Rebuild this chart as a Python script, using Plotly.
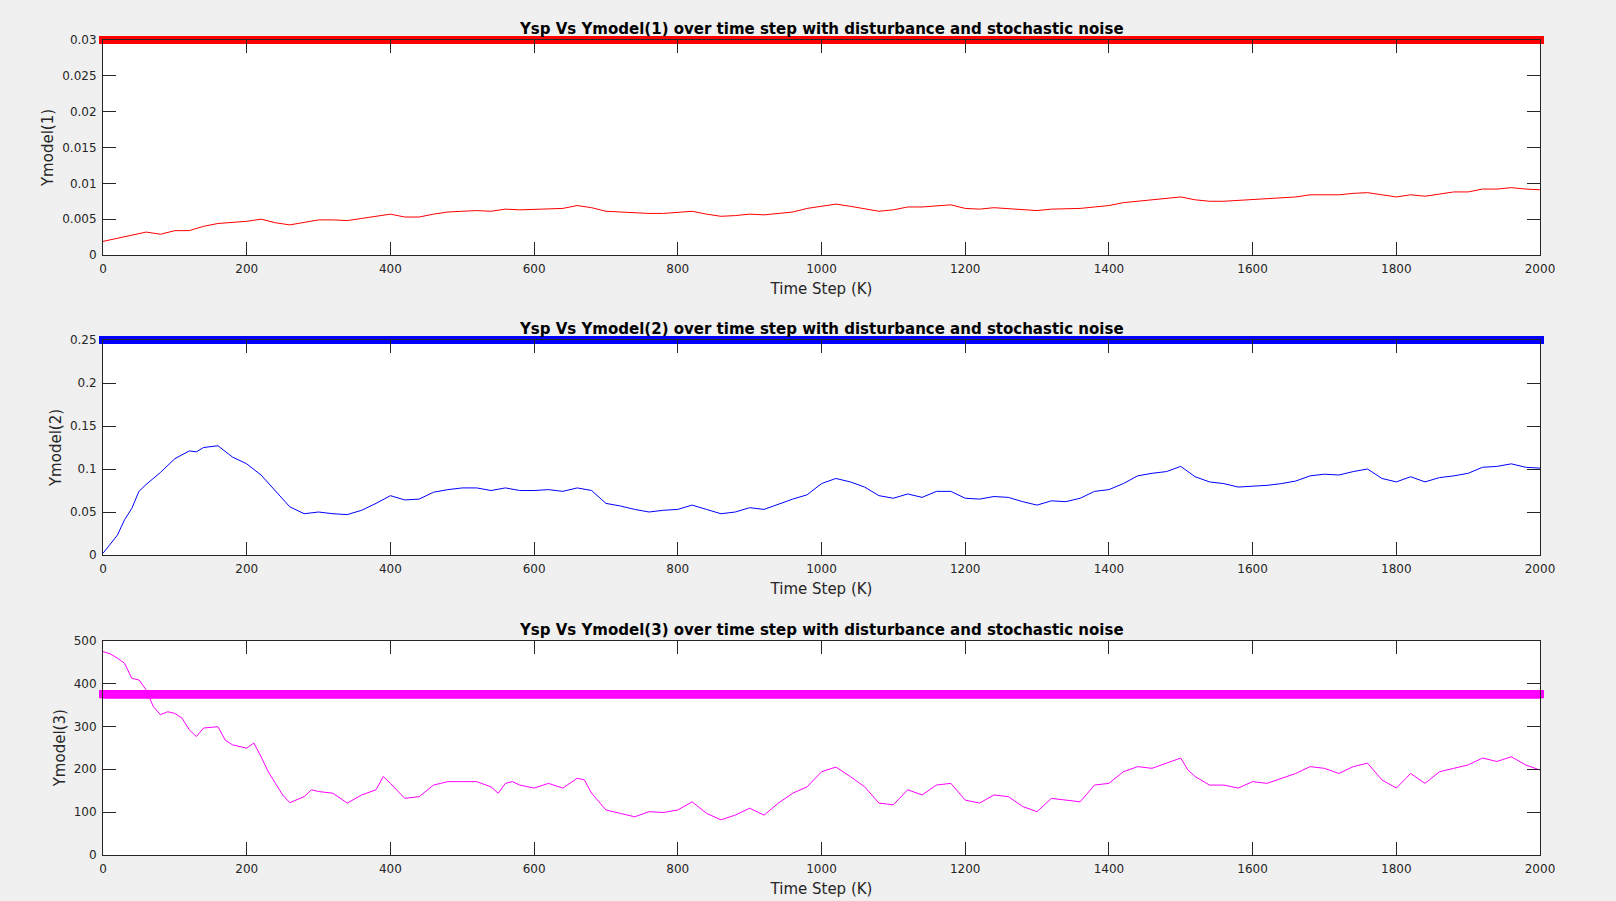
import numpy as np
import plotly.graph_objects as go

# ---------------- data ----------------
time_steps = np.arange(0, 2001)          # K = 0..2000
ysp1, ysp2, ysp3 = 0.03, 0.25, 375.0       # set points

k1 = [0, 20, 40, 60, 80, 100, 120, 140, 160, 180, 200, 220, 240, 260, 280, 300, 320, 340, 360, 380,
      400, 420, 440, 460, 480, 500, 520, 540, 560, 580, 600, 620, 640, 660, 680, 700, 720, 740, 760, 780,
      800, 820, 840, 860, 880, 900, 920, 940, 960, 980, 1000, 1020, 1040, 1060, 1080, 1100, 1120, 1140,
      1160, 1180, 1200, 1220, 1240, 1260, 1280, 1300, 1320, 1340, 1360, 1380, 1400, 1420, 1440, 1460,
      1480, 1500, 1520, 1540, 1560, 1580, 1600, 1620, 1640, 1660, 1680, 1700, 1720, 1740, 1760, 1780,
      1800, 1820, 1840, 1860, 1880, 1900, 1920, 1940, 1960, 1980, 2000]
ymodel1 = [0.0019, 0.0023, 0.0028, 0.0032, 0.0029, 0.0034, 0.0034, 0.0040, 0.0044, 0.0045, 0.0047,
           0.0050, 0.0045, 0.0042, 0.0045, 0.0049, 0.0049, 0.0048, 0.0051, 0.0054, 0.0057, 0.0053,
           0.0053, 0.0057, 0.0060, 0.0061, 0.0062, 0.0061, 0.0064, 0.0063, 0.0064, 0.0065, 0.0065,
           0.0069, 0.0066, 0.0061, 0.0060, 0.0058, 0.0058, 0.0058, 0.0059, 0.0061, 0.0057, 0.0054,
           0.0055, 0.0057, 0.0056, 0.0058, 0.0060, 0.0065, 0.0068, 0.0071, 0.0068, 0.0065, 0.0061,
           0.0063, 0.0067, 0.0067, 0.0068, 0.0070, 0.0065, 0.0064, 0.0066, 0.0065, 0.0063, 0.0062,
           0.0064, 0.0064, 0.0065, 0.0067, 0.0069, 0.0073, 0.0075, 0.0077, 0.0079, 0.0081, 0.0077,
           0.0075, 0.0075, 0.0076, 0.0078, 0.0078, 0.0080, 0.0081, 0.0084, 0.0084, 0.0084, 0.0086,
           0.0087, 0.0084, 0.0081, 0.0084, 0.0082, 0.0085, 0.0088, 0.0088, 0.0092, 0.0092, 0.0094,
           0.0092, 0.0091]

k2 = [0, 10, 20, 30, 40, 50, 60, 80, 100, 120, 130, 140, 160, 180, 200, 220, 240, 260, 280, 300, 320,
      340, 360, 380, 400, 420, 440, 460, 480, 500, 520, 540, 560, 580, 600, 620, 640, 660, 680, 700, 720,
      740, 760, 780, 800, 820, 840, 860, 880, 900, 920, 940, 960, 980, 1000, 1020, 1040, 1060, 1080,
      1100, 1120, 1140, 1160, 1180, 1200, 1220, 1240, 1260, 1280, 1300, 1320, 1340, 1360, 1380, 1400,
      1420, 1440, 1460, 1480, 1500, 1520, 1540, 1560, 1580, 1600, 1620, 1640, 1660, 1680, 1700, 1720,
      1740, 1760, 1780, 1800, 1820, 1840, 1860, 1880, 1900, 1920, 1940, 1960, 1980, 2000]
ymodel2 = [0.002, 0.012, 0.023, 0.041, 0.054, 0.074, 0.082, 0.096, 0.112, 0.121, 0.120, 0.125, 0.127,
           0.114, 0.106, 0.093, 0.074, 0.056, 0.048, 0.050, 0.048, 0.047, 0.052, 0.060, 0.069, 0.064,
           0.065, 0.073, 0.076, 0.078, 0.078, 0.075, 0.078, 0.075, 0.075, 0.076, 0.074, 0.078, 0.075,
           0.060, 0.057, 0.053, 0.050, 0.052, 0.053, 0.058, 0.053, 0.048, 0.050, 0.055, 0.053, 0.059,
           0.065, 0.070, 0.083, 0.089, 0.085, 0.079, 0.069, 0.066, 0.071, 0.067, 0.074, 0.074, 0.066,
           0.065, 0.068, 0.067, 0.062, 0.058, 0.063, 0.062, 0.066, 0.074, 0.076, 0.083, 0.092, 0.095,
           0.097, 0.103, 0.091, 0.085, 0.083, 0.079, 0.080, 0.081, 0.083, 0.086, 0.092, 0.094, 0.093,
           0.097, 0.100, 0.089, 0.085, 0.091, 0.085, 0.090, 0.092, 0.095, 0.102, 0.103, 0.106, 0.102,
           0.101]

k3 = [0, 10, 20, 30, 40, 50, 60, 70, 80, 90, 100, 110, 120, 130, 140, 160, 170, 180, 200, 210, 220,
      230, 240, 250, 260, 280, 290, 300, 320, 340, 360, 380, 390, 400, 420, 440, 460, 480, 500, 520,
      540, 550, 560, 570, 580, 600, 620, 640, 660, 670, 680, 700, 720, 740, 760, 780, 800, 820, 840,
      860, 880, 900, 920, 940, 960, 980, 1000, 1020, 1040, 1060, 1080, 1100, 1120, 1140, 1160, 1180,
      1200, 1220, 1240, 1260, 1280, 1300, 1320, 1340, 1360, 1380, 1400, 1420, 1440, 1460, 1480, 1500,
      1510, 1520, 1540, 1560, 1580, 1600, 1620, 1640, 1660, 1680, 1700, 1720, 1740, 1760, 1780, 1800,
      1820, 1840, 1860, 1880, 1900, 1920, 1940, 1960, 1980, 2000]
ymodel3 = [474, 469, 459, 447, 412, 408, 385, 346, 327, 334, 330, 319, 292, 276, 296, 299, 268, 257,
           249, 261, 229, 194, 167, 140, 122, 136, 152, 148, 144, 121, 140, 152, 183, 167, 132, 136,
           163, 171, 171, 171, 159, 144, 167, 171, 163, 156, 167, 156, 179, 175, 144, 105, 97, 89, 101,
           99, 105, 124, 97, 82, 93, 109, 93, 121, 144, 159, 194, 205, 183, 159, 121, 117, 152, 140,
           163, 167, 128, 121, 140, 136, 113, 101, 132, 128, 124, 163, 167, 194, 206, 202, 214, 226,
           198, 183, 163, 163, 156, 171, 167, 179, 190, 206, 202, 190, 206, 214, 175, 156, 190, 167,
           194, 202, 210, 226, 218, 229, 210, 198]

x_ticks = list(range(0, 2001, 200))
y1_ticks = [0, 0.005, 0.01, 0.015, 0.02, 0.025, 0.03]
y1_labels = ["0", "0.005", "0.01", "0.015", "0.02", "0.025", "0.03"]
y2_ticks = [0, 0.05, 0.1, 0.15, 0.2, 0.25]
y2_labels = ["0", "0.05", "0.1", "0.15", "0.2", "0.25"]
y3_ticks = [0, 100, 200, 300, 400, 500]
y3_labels = ["0", "100", "200", "300", "400", "500"]

titles = ["Ysp Vs Ymodel(1) over time step with disturbance and stochastic noise",
          "Ysp Vs Ymodel(2) over time step with disturbance and stochastic noise",
          "Ysp Vs Ymodel(3) over time step with disturbance and stochastic noise"]
ylabels = ["Ymodel(1)", "Ymodel(2)", "Ymodel(3)"]
xlabel = "Time Step (K)"

# ---------------- figure ----------------
W, H = 1616, 901
FONT = "DejaVu Sans"
AX = "#262626"
x_dom = [103 / W, 1540 / W]
y_doms = [[1 - 255 / H, 1 - 40 / H], [1 - 555 / H, 1 - 340 / H], [1 - 855 / H, 1 - 640.5 / H]]

colors = ["#FF0000", "#0000FF", "#FF00FF"]
series = [(k1, ymodel1, ysp1), (k2, ymodel2, ysp2), (k3, ymodel3, ysp3)]
yticks = [(y1_ticks, y1_labels, [0, 0.03]), (y2_ticks, y2_labels, [0, 0.25]), (y3_ticks, y3_labels, [0, 500])]

fig = go.Figure()
for i, ((k, y, sp), c) in enumerate(zip(series, colors)):
    xa = "x" if i == 0 else f"x{i+1}"
    ya = "y" if i == 0 else f"y{i+1}"
    fig.add_trace(go.Scatter(x=k, y=y, mode="lines", line=dict(color=c, width=1),
                             xaxis=xa, yaxis=ya, showlegend=False, hoverinfo="skip"))
    fig.add_trace(go.Scatter(x=time_steps, y=np.full(time_steps.shape, sp), mode="markers",
                             marker=dict(symbol="square", size=8, color=c, line=dict(width=0)),
                             cliponaxis=False, xaxis=xa, yaxis=ya, showlegend=False, hoverinfo="skip"))

layout = dict(
    width=W, height=H, autosize=False,
    margin=dict(l=0, r=0, t=0, b=0, pad=0, autoexpand=False),
    paper_bgcolor="#F0F0F0", plot_bgcolor="#FFFFFF",
    font=dict(family=FONT, size=12, color=AX),
    annotations=[],
)
for i in range(3):
    xk = "xaxis" if i == 0 else f"xaxis{i+1}"
    yk = "yaxis" if i == 0 else f"yaxis{i+1}"
    ya = "y" if i == 0 else f"y{i+1}"
    xa = "x" if i == 0 else f"x{i+1}"
    tv, tt, rng = yticks[i]
    layout[xk] = dict(domain=x_dom, anchor=ya, range=[0, 2000], tickvals=x_ticks,
                      ticks="inside", ticklen=13, tickcolor=AX, tickwidth=1,
                      showline=True, linecolor=AX, linewidth=1, mirror="ticks",
                      showgrid=False, zeroline=False, ticklabelstandoff=3, automargin=False,
                      tickfont=dict(size=12, color=AX, family=FONT),
                      title=dict(text=xlabel, font=dict(size=15, color=AX, family=FONT), standoff=8))
    layout[yk] = dict(domain=y_doms[i], anchor=xa, range=rng, tickvals=tv, ticktext=tt,
                      ticks="inside", ticklen=13, tickcolor=AX, tickwidth=1,
                      showline=True, linecolor=AX, linewidth=1, mirror="ticks",
                      showgrid=False, zeroline=False, ticklabelstandoff=3, automargin=False,
                      tickfont=dict(size=12, color=AX, family=FONT),
                      title=dict(text=ylabels[i], font=dict(size=15, color=AX, family=FONT), standoff=4))
    layout["annotations"].append(dict(
        text="<b>" + titles[i] + "</b>", xref="paper", yref="paper",
        x=(x_dom[0] + x_dom[1]) / 2, y=y_doms[i][1], xanchor="center", yanchor="bottom",
        yshift=0, showarrow=False, font=dict(size=15, color="#000000", family=FONT)))

fig.update_layout(**layout)
fig.write_html("out.html", config={"displayModeBar": False},
               post_script="document.body.style.margin='0';document.body.style.background='#F0F0F0';")
